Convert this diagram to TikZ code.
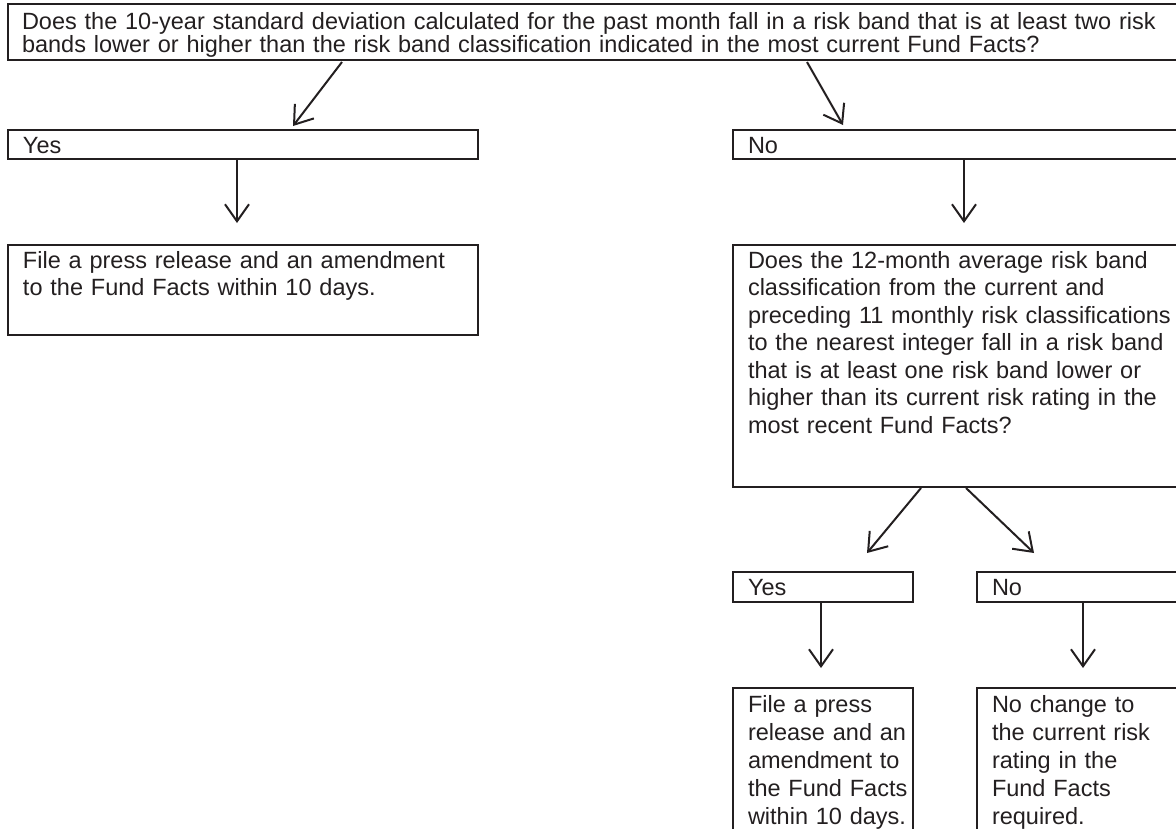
\documentclass[tikz,border=0pt]{standalone}
\usepackage{fontspec}
\setmainfont{Liberation Sans}
\usetikzlibrary{calc,arrows.meta}
\definecolor{ink}{HTML}{231F20}
\newcommand\padtxt[2]{\leftskip=#1\relax #2\par}
\begin{document}
\begin{tikzpicture}[x=1pt,y=-1pt,
  box/.style={draw=ink, line width=2.7pt, rectangle, anchor=north west, outer sep=0pt,
    inner xsep=0pt, inner ysep=0pt, align=left, text=ink,
    font=\fontsize{23.5}{27.5}\selectfont},
  thinbox/.style={box, line width=2pt},
  arr/.style={draw=ink, line width=2pt, -{Straight Barb[length=17pt,width=24pt,line width=2pt]}}]
\useasboundingbox (0,0) rectangle (1176,828);
\clip (0,0) rectangle (1176,828);

\node[box, line width=2.6pt, minimum width=1190pt, text width=1190pt,
  text height=25pt, text depth=31pt, font=\fontsize{23.5}{23.5}\selectfont] (top) at (8,4)
  {\padtxt{14pt}{Does the 10-year standard deviation calculated for the past month fall in a risk band that is at least two risk\\
   bands lower or higher than the risk band classification indicated in the most current Fund Facts?}};

\node[thinbox, minimum width=470pt, text width=470pt, text height=23pt, text depth=6pt] (yesL) at (8,130) {\padtxt{15pt}{Yes}};
\node[thinbox, minimum width=480pt, text width=480pt, text height=23pt, text depth=6pt] (noR) at (733,130) {\padtxt{15pt}{No}};

\node[box, minimum width=470pt, text width=470pt, text height=23pt, text depth=67pt,
  font=\fontsize{23.5}{27}\selectfont] (fileL) at (8,245)
  {\padtxt{15pt}{File a press release and an amendment\\to the Fund Facts within 10 days.}};

\node[box, minimum width=480pt, text width=480pt, text height=23pt, text depth=219pt] (big) at (733,245)
  {\padtxt{15pt}{Does the 12-month average risk band\\
   classification from the current and\\
   preceding 11 monthly risk classifications\\
   to the nearest integer fall in a risk band\\
   that is at least one risk band lower or\\
   higher than its current risk rating in the\\
   most recent Fund Facts?}};

\node[box, minimum width=180pt, text width=180pt, text height=23pt, text depth=7pt] (yesR) at (733,572) {\padtxt{15pt}{Yes}};
\node[box, minimum width=215pt, text width=215pt, text height=23pt, text depth=7pt] (noRR) at (977,572) {\padtxt{15pt}{No}};

\node[box, minimum width=180pt, text width=180pt, text height=24pt, text depth=160pt,
  font=\fontsize{23.5}{28}\selectfont] (fileR) at (733,688)
  {\padtxt{15pt}{File a press\\release and an\\amendment to\\the Fund Facts\\within 10 days.}};
\node[box, minimum width=215pt, text width=215pt, text height=24pt, text depth=160pt,
  font=\fontsize{23.5}{28}\selectfont] (keep) at (977,688)
  {\padtxt{15pt}{No change to\\the current risk\\rating in the\\Fund Facts\\required.}};

\draw[arr] ($(top.south west)+(334,2)$) -- ($(yesL.north west)+(285,-4)$);
\draw[arr] ($(top.south west)+(799,2)$) -- ($(noR.north west)+(110,-5)$);
\draw[arr] ($(yesL.south west)+(229,1)$) -- ($(fileL.north west)+(229,-22)$);
\draw[arr] ($(noR.south west)+(231,1)$) -- ($(big.north west)+(231,-22)$);
\draw[arr] ($(big.south west)+(188,1)$) -- ($(yesR.north west)+(134,-19)$);
\draw[arr] ($(big.south west)+(233,1)$) -- ($(noRR.north west)+(57,-19)$);
\draw[arr] ($(yesR.south west)+(88,1)$) -- ($(fileR.north west)+(88,-20)$);
\draw[arr] ($(noRR.south west)+(106,1)$) -- ($(keep.north west)+(106,-20)$);
\end{tikzpicture}
\end{document}
